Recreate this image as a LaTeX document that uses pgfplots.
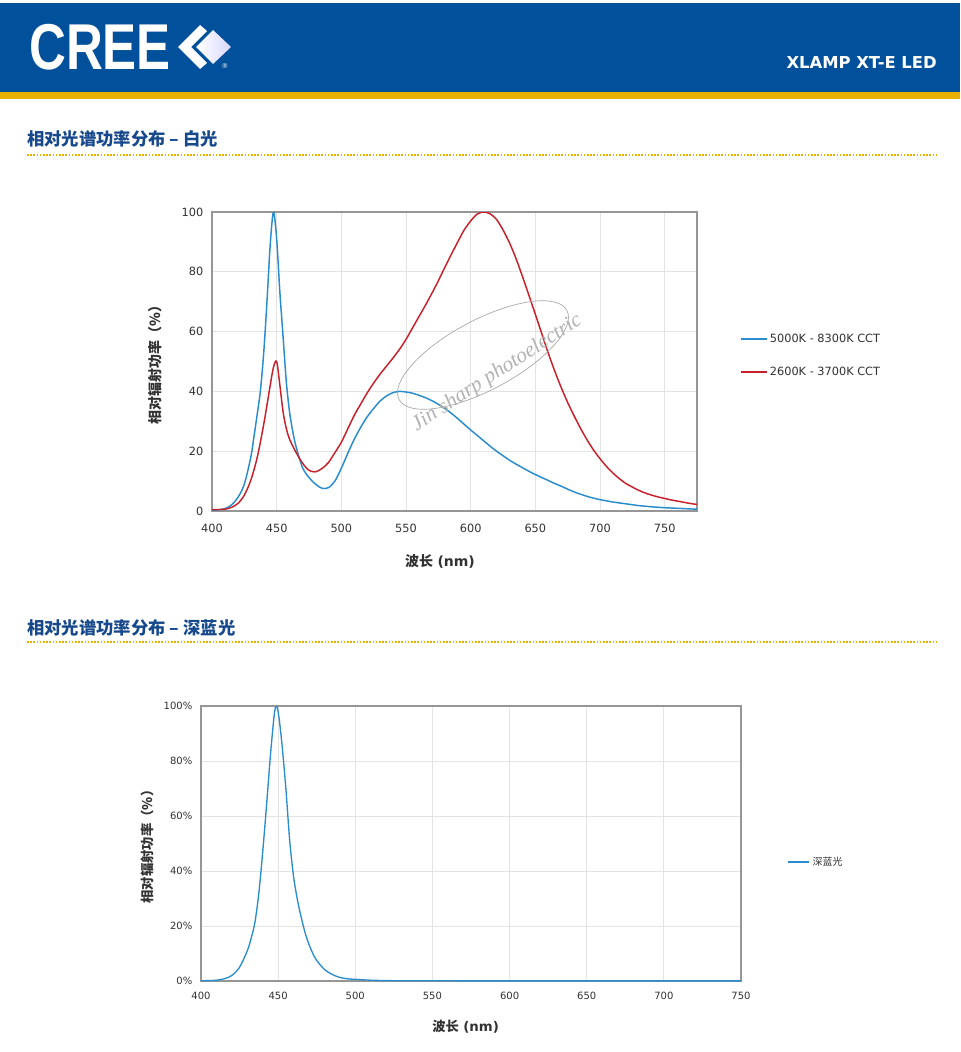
\documentclass[border=0pt]{standalone}
\usepackage{pgfplots}
\pgfplotsset{compat=1.18}
\usepackage{fontspec}
\setmainfont{DejaVu Sans}
\newfontfamily\cjk{Noto Sans CJK SC}
\newfontfamily\arial{Liberation Sans}
\newfontfamily\tnr{Liberation Serif}
\definecolor{creeblue}{RGB}{0,80,155}
\definecolor{creeyellow}{RGB}{232,176,0}
\definecolor{titleblue}{RGB}{22,72,140}
\definecolor{lblue}{RGB}{41,140,204}
\definecolor{lred}{RGB}{200,32,42}
\definecolor{gridc}{RGB}{228,228,228}
\definecolor{framec}{RGB}{150,150,150}
\definecolor{txt}{RGB}{50,50,50}
\begin{document}
\begin{tikzpicture}[x=0.75pt,y=-0.75pt]
\useasboundingbox (0,0) rectangle (960,1052);
\fill[white] (0,0) rectangle (960,1052);
% header
\fill[creeblue] (0,3) rectangle (960,92);
\fill[creeyellow] (0,92) rectangle (960,99);
\node[anchor=base west,text=white,inner sep=0] at (29,70) {\scalebox{0.85}[1.08]{\arial\bfseries\fontsize{45}{45}\selectfont CREE}};
\fill[white] (178,47) -- (200,25) -- (207,31) -- (191,47) -- (207,63) -- (200,69) -- cycle;
\shade[left color=white,right color=blue!15] (196,47) -- (213,30) -- (231,47) -- (213,64) -- cycle;
\node[text=white,inner sep=0] at (225,66) {\fontsize{5}{5}\selectfont\textregistered};
\node[anchor=base east,text=white,inner sep=0] at (937,69) {\fontsize{12.3}{13}\selectfont\bfseries XLAMP XT-E LED};
% section titles
\node[anchor=base west,text=titleblue,inner sep=0] at (27,146) {\cjk\bfseries\fontsize{13}{13}\selectfont 相对光谱功率分布 – 白光};
\draw[creeyellow,line width=1.1pt,dash pattern=on 1.2pt off 1.2pt] (27,155) -- (937,155);
\node[anchor=base west,text=titleblue,inner sep=0] at (27,634) {\cjk\bfseries\fontsize{13}{13}\selectfont 相对光谱功率分布 – 深蓝光};
\draw[creeyellow,line width=1.1pt,dash pattern=on 1.2pt off 1.2pt] (27,642) -- (937,642);

\pgfplotsset{every axis/.append style={
  scale only axis, grid=major, major grid style={gridc,line width=0.6pt},
  axis line style={framec,line width=0.8pt}, major tick length=0pt,
  tick label style={font=\fontsize{8.5}{10}\selectfont, text=txt},
  /pgf/number format/assume math mode=true,
  label style={text=txt},
  legend cell align=left,
  legend image code/.code={\draw[#1] (0pt,0pt) -- (19pt,0pt);},
}}
% chart 1
\begin{axis}[at={(159pt,-383.25pt)},anchor=south west,
  width=363.75pt,height=224.25pt,
  xmin=400,xmax=775,ymin=0,ymax=100,
  xtick={400,450,...,750},ytick={0,20,...,100},
  xticklabel style={yshift=-6pt}, yticklabel style={xshift=-3pt},
  xlabel={{\cjk\bfseries 波长} \bfseries(nm)},
  ylabel={\cjk\bfseries 相对辐射功率（\%）},
  xlabel style={at={(axis description cs:0.47,-0.167)},anchor=center,font=\fontsize{10.5}{12}\selectfont},
  ylabel style={at={(axis description cs:-0.1175,0.5)},anchor=center,font=\fontsize{10.5}{12}\selectfont},
  legend style={at={(1.089,0.52)},anchor=west,draw=none,fill=none,inner sep=0pt,
    row sep=13pt,font=\fontsize{8.5}{10}\selectfont,nodes={inner sep=2pt,text=txt}},
]
\addplot[lblue,line width=1.1pt,smooth,tension=0.5] coordinates {
(400,0.3)(405,0.4)(410,0.8)(415,2)(420,4.5)(425,9)(430,18)(432.5,25)(435,32.5)(437.5,40.5)(440,53)(442.5,70)(445,89)(447.5,100)(450,91)(452.5,73)(455,58)(457.5,43)(460,33)(462.5,26.5)(465,21.5)(470,14.5)(475,11.2)(480,9)(485,7.6)(490,7.8)(495,10)(500,14.3)(505,19.3)(510,24)(515,28)(520,31.5)(525,34.3)(530,36.8)(535,38.5)(540,39.6)(545,40)(550,39.8)(555,39.4)(560,38.7)(565,37.9)(570,36.9)(575,35.7)(580,34.3)(585,32.7)(590,30.9)(595,29)(600,27.1)(605,25.3)(610,23.5)(615,21.7)(620,20)(625,18.5)(630,17)(635,15.7)(640,14.5)(645,13.3)(650,12.2)(655,11.2)(660,10.2)(665,9.2)(670,8.3)(675,7.3)(680,6.4)(685,5.6)(690,4.9)(695,4.3)(700,3.8)(705,3.4)(710,3)(715,2.7)(720,2.4)(725,2.1)(730,1.8)(735,1.6)(740,1.4)(745,1.25)(750,1.1)(755,1)(760,0.9)(765,0.8)(770,0.7)(775,0.6)};
\addlegendentry{5000K - 8300K CCT}
\addplot[lred,line width=1.1pt,smooth,tension=0.5] coordinates {
(400,0.5)(405,0.5)(410,0.6)(415,1.2)(420,2.5)(425,5.3)(430,10.3)(435,18)(440,29)(445,42)(447.5,48)(450,50)(452.5,42)(455,33)(457.5,27.5)(460,24)(465,19.6)(470,16)(475,13.6)(480,13.1)(485,14.2)(490,16.2)(495,19.5)(500,23)(505,27.5)(510,32)(515,35.8)(520,39.5)(525,42.8)(530,45.8)(535,48.5)(540,51.2)(545,54.1)(550,57.4)(555,61.2)(560,65)(565,68.8)(570,72.8)(575,77)(580,81.5)(585,85.8)(590,90)(595,94)(600,97)(605,99.3)(610,100)(615,99.4)(620,97.5)(625,94)(630,89.7)(635,84.5)(640,78.5)(645,72.2)(650,65.8)(655,59.3)(660,52.8)(665,46.8)(670,41.3)(675,36.3)(680,31.8)(685,27.6)(690,23.8)(695,20.4)(700,17.5)(705,14.9)(710,12.7)(715,10.8)(720,9.2)(725,8)(730,6.9)(735,6)(740,5.3)(745,4.7)(750,4.2)(755,3.7)(760,3.3)(765,2.9)(770,2.5)(775,2.2)};
\addlegendentry{2600K - 3700K CCT}
\end{axis}
% watermark
\draw[gray!70,line width=0.5pt,rotate around={28:(483,355)}] (483,355) ellipse (95 and 35);
\node[text=gray!60,rotate=33,inner sep=0] at (497,373) {\tnr\itshape\fontsize{16}{16}\selectfont Jin sharp photoelectric};
% chart 2
\begin{axis}[at={(150.75pt,-735.75pt)},anchor=south west,
  width=405pt,height=206.25pt,
  xmin=400,xmax=750,ymin=0,ymax=100,
  xtick={400,450,...,750},ytick={0,20,...,100},
  tick label style={font=\fontsize{7.5}{9}\selectfont},
  yticklabel={\pgfmathprintnumber{\tick}\%},
  xticklabel style={yshift=-5pt}, yticklabel style={xshift=-3pt},
  xlabel={{\cjk\bfseries 波长} \bfseries(nm)},
  ylabel={\cjk\bfseries 相对辐射功率（\%）},
  xlabel style={at={(axis description cs:0.49,-0.167)},anchor=center,font=\fontsize{10}{12}\selectfont},
  ylabel style={at={(axis description cs:-0.1,0.5)},anchor=center,font=\fontsize{10}{12}\selectfont},
  legend style={at={(1.085,0.433)},anchor=west,draw=none,fill=none,inner sep=0pt,
    font=\fontsize{7.5}{9}\selectfont,nodes={inner sep=2pt,text=txt}},
  legend image code/.code={\draw[#1] (0pt,0pt) -- (16pt,0pt);},
]
\addplot[lblue,line width=1pt,smooth,tension=0.5] coordinates {
(400,0.1)(405,0.15)(410,0.3)(415,0.8)(420,2)(425,5)(430,11)(432.5,15.5)(435,21.5)(437.5,32)(440,47)(442.5,64)(445,82)(447.5,97)(449,100)(450.5,96)(452.5,86)(455,70)(457.5,51)(460,38)(462.5,29.5)(465,23)(467.5,17.5)(470,13.3)(472.5,10)(475,7.5)(480,4.2)(485,2.4)(490,1.3)(495,0.8)(500,0.6)(510,0.3)(520,0.15)(530,0.1)(550,0.08)(600,0.05)(750,0.05)};
\addlegendentry{\cjk 深蓝光}
\end{axis}
\end{tikzpicture}
\end{document}
